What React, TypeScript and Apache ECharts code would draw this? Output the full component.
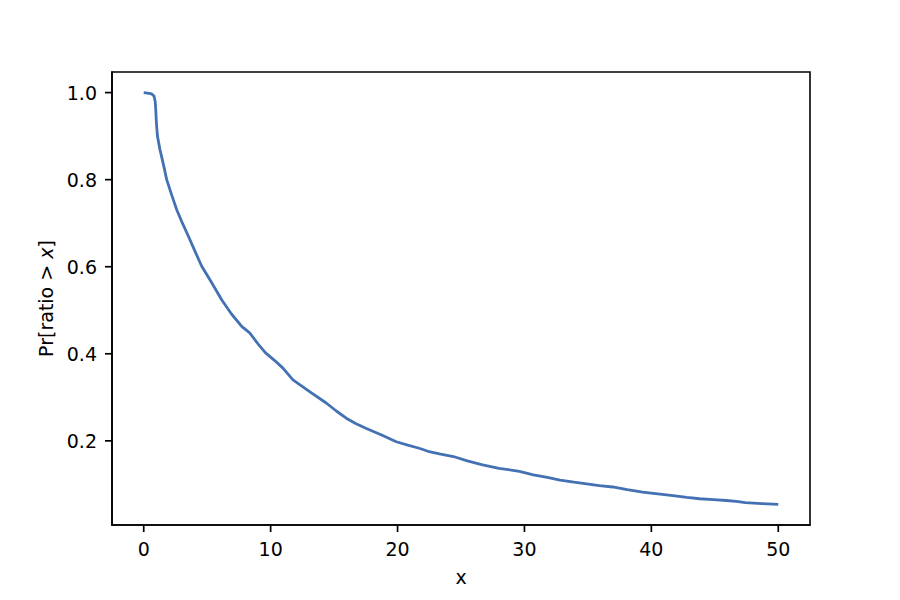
import React, { useEffect, useRef } from "react";
import * as echarts from "echarts";

const xValues: number[] = [
  0, 0.3, 0.63, 0.81, 0.9, 0.94, 1.0, 1.08, 1.28, 1.55, 1.81, 2.2, 2.6, 3.05, 3.52, 4.0, 4.57, 5.3,
  6.14, 6.9, 7.72, 8.35, 9.0, 9.6, 10.3, 10.97, 11.76, 12.4, 13.07, 14.38, 15.2, 15.96, 16.7, 17.5,
  18.7, 19.9, 20.8, 21.7, 22.4, 23.3, 24.4, 25.5, 26.7, 28.0, 29.6, 30.7, 31.8, 32.8, 33.9, 34.9,
  35.9, 36.95, 38.1, 39.3, 40.5, 41.7, 42.8, 43.8, 44.9, 45.9, 46.7, 47.4, 48.7, 50,
];
const yValues: number[] = [
  1.0, 0.999, 0.997, 0.992, 0.98, 0.965, 0.93, 0.9, 0.869, 0.835, 0.8, 0.765, 0.731, 0.7, 0.67,
  0.638, 0.601, 0.566, 0.524, 0.492, 0.463, 0.448, 0.423, 0.402, 0.385, 0.367, 0.34, 0.327, 0.313,
  0.287, 0.268, 0.252, 0.24, 0.229, 0.214, 0.198, 0.19, 0.183, 0.176, 0.17, 0.164, 0.154, 0.145,
  0.137, 0.13, 0.122, 0.116, 0.11, 0.105, 0.101, 0.097, 0.094, 0.088, 0.082, 0.078, 0.074, 0.07,
  0.067, 0.065, 0.063, 0.061, 0.058, 0.056, 0.054,
];
const xTicks: number[] = [0, 10, 20, 30, 40, 50];
const yTicks: number[] = [0.2, 0.4, 0.6, 0.8, 1.0];

const FONT = "DejaVu Sans";
const X_MIN = -2.5;
const X_MAX = 52.5;
const Y_MIN = 0.0067;
const Y_MAX = 1.0473;
const TICK = 7;

export default function App() {
  const ref = useRef<HTMLDivElement>(null);
  useEffect(() => {
    if (!ref.current) return;
    const chart = echarts.init(ref.current, undefined, { renderer: "svg" });
    const data = xValues.map((x, i) => [x, yValues[i]]);
    const lineStyle = { color: "#000", width: 1.6 };
    chart.setOption({
      animation: false,
      backgroundColor: "#ffffff",
      grid: {
        left: 112,
        right: 90,
        top: 72,
        bottom: 75,
        show: true,
        borderColor: "#000000",
        borderWidth: 1.6,
        backgroundColor: "transparent",
      },
      xAxis: {
        type: "value",
        min: X_MIN,
        max: X_MAX,
        splitLine: { show: false },
        axisLine: { show: true, onZero: false, lineStyle },
        axisTick: { show: false },
        axisLabel: {
          customValues: xTicks,
          margin: 14,
          color: "#000",
          fontFamily: FONT,
          fontSize: 19,
          formatter: (v: number) => String(v),
        },
        name: "x",
        nameLocation: "middle",
        nameGap: 42,
        nameTextStyle: { color: "#000", fontFamily: FONT, fontSize: 19 },
      },
      yAxis: {
        type: "value",
        min: Y_MIN,
        max: Y_MAX,
        splitLine: { show: false },
        axisLine: { show: true, onZero: false, lineStyle },
        axisTick: { show: false },
        axisLabel: {
          customValues: yTicks,
          margin: 15,
          color: "#000",
          fontFamily: FONT,
          fontSize: 19,
          formatter: (v: number) => v.toFixed(1),
        },
        name: "{n|Pr[ratio > }{i|x}{n|]}",
        nameLocation: "middle",
        nameGap: 57,
        nameTextStyle: {
          color: "#000",
          fontFamily: FONT,
          fontSize: 19,
          rich: {
            n: { fontFamily: FONT, fontSize: 19, color: "#000" },
            i: { fontFamily: FONT, fontSize: 19, fontStyle: "italic", color: "#000" },
          },
        },
      },
      series: [
        {
          type: "line",
          data,
          showSymbol: false,
          symbol: "none",
          lineStyle: { color: "#4471b3", width: 2.8 },
          smooth: false,
          z: 3,
        },
        {
          type: "custom",
          name: "xTickMarks",
          clip: false,
          silent: true,
          z: 5,
          data: xTicks.map((v) => [v, Y_MIN]),
          renderItem: (_params: any, api: any) => {
            const p = api.coord([api.value(0), api.value(1)]);
            return {
              type: "line",
              shape: { x1: p[0], y1: p[1], x2: p[0], y2: p[1] + TICK },
              style: { stroke: "#000", lineWidth: 1.7 },
            };
          },
        },
        {
          type: "custom",
          name: "yTickMarks",
          clip: false,
          silent: true,
          z: 5,
          data: yTicks.map((v) => [X_MIN, v]),
          renderItem: (_params: any, api: any) => {
            const p = api.coord([api.value(0), api.value(1)]);
            return {
              type: "line",
              shape: { x1: p[0] - TICK, y1: p[1], x2: p[0], y2: p[1] },
              style: { stroke: "#000", lineWidth: 1.7 },
            };
          },
        },
      ],
    });

    return () => chart.dispose();
  }, []);
  return (
    <div
      ref={ref}
      style={{ position: "fixed", left: 0, top: 0, width: 900, height: 600, background: "#fff" }}
    />
  );
}
